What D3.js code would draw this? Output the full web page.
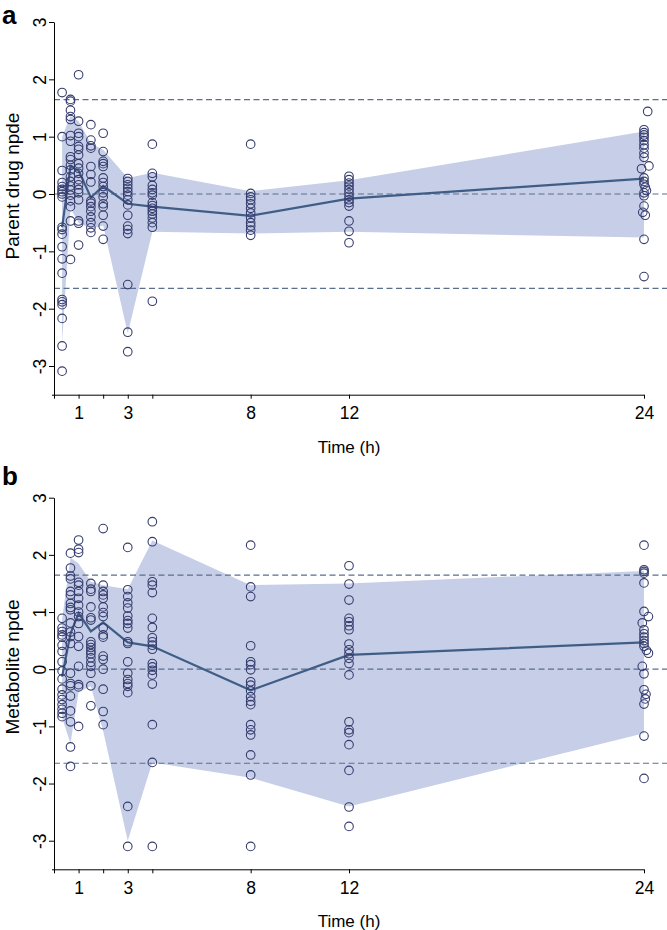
<!DOCTYPE html>
<html>
<head>
<meta charset="utf-8">
<script src="https://cdn.jsdelivr.net/npm/d3@7"></script>
<style>
  html, body { margin: 0; padding: 0; background: #fff; }
  svg { display: block; font-family: "Liberation Sans", Arial, sans-serif; }
</style>
</head>
<body>
<svg id="chart" width="667" height="930"></svg>
<script>
// ---------- DATA ----------
const times = [0.33, 0.67, 1, 1.5, 2, 3, 4, 8, 12, 24];
const xTickValues = [0, 1, 2, 3, 4, 8, 12, 24];
const xTickLabels = ["", "1", "", "3", "", "8", "12", "24"];
const yTickValues = [-3, -2, -1, 0, 1, 2, 3];
const refLines = [-1.645, 0, 1.645];

// Panel a: parent drug
const parentMedian = [-0.58, 0.48, 0.41, -0.06, 0.14, -0.17, -0.22, -0.38, -0.08, 0.27];
const parentUpper  = [1.00, 1.36, 1.27, 0.88, 0.77, 0.28, 0.37, 0.05, 0.24, 1.09];
const parentLower  = [-2.60, -0.25, -0.50, -0.60, -0.55, -2.43, -0.66, -0.69, -0.66, -0.76];
const parentObs = [
  [1.77, 1.00, 0.41, 0.20, 0.13, 0.08, 0.04, 0.00, -0.05, -0.58, -0.62, -0.70, -0.92, -1.13, -1.38, -1.84, -1.88, -1.93, -2.17, -2.65, -3.09],
  [1.65, 1.62, 1.46, 1.35, 1.30, 1.02, 0.92, 0.65, 0.60, 0.50, 0.42, 0.30, 0.22, 0.14, 0.07, -0.02, -0.12, -0.22, -0.47, -1.14],
  [2.08, 1.27, 1.06, 1.00, 0.83, 0.78, 0.68, 0.53, 0.45, 0.36, 0.25, 0.16, 0.08, 0.02, -0.10, -0.47, -0.51, -0.89],
  [1.21, 0.94, 0.84, 0.80, 0.48, 0.34, 0.21, -0.12, -0.16, -0.22, -0.30, -0.40, -0.50, -0.59, -0.67],
  [1.06, 0.74, 0.57, 0.53, 0.48, 0.28, 0.20, 0.13, 0.02, -0.05, -0.17, -0.22, -0.37, -0.56, -0.79],
  [0.27, 0.22, 0.16, 0.10, 0.04, -0.02, -0.10, -0.19, -0.37, -0.56, -0.62, -0.69, -1.58, -2.41, -2.75],
  [0.87, 0.36, 0.30, 0.15, 0.08, 0.02, -0.02, -0.15, -0.20, -0.25, -0.30, -0.35, -0.42, -0.50, -0.58, -1.87],
  [0.87, 0.01, -0.05, -0.10, -0.17, -0.25, -0.33, -0.42, -0.50, -0.56, -0.63, -0.72],
  [0.31, 0.25, 0.19, 0.14, 0.08, 0.02, -0.04, -0.10, -0.15, -0.21, -0.47, -0.65, -0.85],
  [1.44, 1.12, 1.07, 1.03, 0.99, 0.93, 0.86, 0.80, 0.71, 0.64, 0.49, 0.44, 0.28, 0.22, 0.17, 0.12, 0.06, 0.02, -0.03, -0.21, -0.32, -0.37, -0.79, -1.44]
];
// actual sampling times of the 24 h observations
const parentLateTimes = [24.15, 24, 24, 24, 24, 24, 24, 24, 24, 24, 24.2, 23.9, 24, 24, 24, 24.05, 24.1, 24, 24, 24, 23.95, 24.05, 24, 24];

// Panel b: metabolite
const metabMedian = [-0.13, 0.62, 0.98, 0.66, 0.82, 0.47, 0.40, -0.37, 0.25, 0.47];
const metabUpper  = [0.88, 1.95, 1.85, 1.53, 1.47, 1.40, 2.25, 1.47, 1.50, 1.72];
const metabLower  = [-0.85, -1.30, -0.40, -0.30, -1.08, -3.00, -1.63, -1.90, -2.40, -1.12];
const metabObs = [
  [0.89, 0.72, 0.66, 0.60, 0.56, 0.42, 0.31, 0.13, -0.03, -0.17, -0.35, -0.45, -0.53, -0.62, -0.70, -0.77, -0.83],
  [2.03, 1.77, 1.63, 1.58, 1.36, 1.30, 1.15, 1.08, 1.04, 0.81, 0.65, 0.57, 0.45, -0.07, -0.25, -0.29, -0.47, -0.73, -0.92, -1.36, -1.70],
  [2.26, 2.10, 2.04, 1.52, 1.47, 1.36, 1.24, 1.12, 1.00, 0.92, 0.80, 0.57, 0.40, 0.05, -0.27, -0.31, -1.00],
  [1.50, 1.40, 1.36, 1.09, 0.90, 0.86, 0.48, 0.43, 0.38, 0.32, 0.27, 0.20, 0.12, 0.05, -0.07, -0.29, -0.64],
  [2.46, 1.47, 1.36, 1.30, 1.24, 1.09, 0.99, 0.92, 0.72, 0.60, 0.56, 0.23, 0.17, 0.00, -0.35, -0.74, -0.97],
  [2.13, 1.39, 1.27, 1.16, 1.07, 0.93, 0.85, 0.80, 0.72, 0.48, 0.45, 0.13, -0.07, -0.18, -0.25, -0.30, -0.41, -2.40, -3.10],
  [2.58, 2.23, 1.53, 1.47, 1.34, 0.89, 0.73, 0.55, 0.48, 0.42, 0.35, 0.10, 0.04, -0.02, -0.10, -0.26, -0.97, -1.63, -3.10],
  [2.17, 1.44, 1.27, 0.41, 0.13, 0.08, -0.01, -0.22, -0.28, -0.38, -0.48, -0.56, -0.62, -0.97, -1.06, -1.15, -1.50, -1.85, -3.10],
  [1.81, 1.49, 1.21, 0.89, 0.83, 0.76, 0.69, 0.44, 0.34, 0.27, 0.19, 0.10, -0.10, -0.92, -1.06, -1.11, -1.32, -1.77, -2.41, -2.75],
  [2.17, 1.74, 1.71, 1.68, 1.51, 1.01, 0.92, 0.81, 0.69, 0.62, 0.56, 0.50, 0.45, 0.40, 0.33, 0.28, 0.05, -0.08, -0.36, -0.44, -0.52, -0.61, -1.17, -1.91]
];
const metabLateTimes = [24, 24, 24, 24, 24, 24, 24.18, 23.93, 24, 24, 24, 24, 24, 24, 24.1, 24.18, 23.93, 24, 24, 24.08, 24.05, 24, 24, 24];

// ---------- DRAWING ----------
const svg = d3.select("#chart");
const C = {
  band: "#c6cfe7",
  line: "#3f5d86",
  dash: "#5b6e8e",
  point: "#353c6e"
};

function drawPanel(p) {
  const x = d3.scaleLinear().domain([0, 24]).range([54, 644]);
  const y = d3.scaleLinear().domain([-3.5, 3]).range([p.bottom, p.top]);
  const g = svg.append("g");

  // band
  const area = d3.area()
    .x((d, i) => x(times[i]))
    .y0((d, i) => y(p.lower[i]))
    .y1((d, i) => y(p.upper[i]));
  g.append("path").datum(times).attr("d", area).attr("fill", C.band);

  // reference lines
  g.selectAll("line.ref").data(refLines).enter().append("line")
    .attr("x1", x(0)).attr("x2", 667)
    .attr("y1", d => y(d)).attr("y2", d => y(d))
    .attr("stroke", C.dash).attr("stroke-width", 1.2)
    .attr("stroke-dasharray", "6,3.5");

  // median line
  const line = d3.line().x((d, i) => x(times[i])).y(d => y(d));
  g.append("path").datum(p.median).attr("d", line)
    .attr("fill", "none").attr("stroke", C.line).attr("stroke-width", 2.2);

  // observations
  const pts = [];
  p.obs.forEach((vals, i) => {
    vals.forEach((v, j) => {
      const t = (i === times.length - 1) ? p.late[j] : times[i];
      pts.push({ t, v });
    });
  });
  g.selectAll("circle").data(pts).enter().append("circle")
    .attr("cx", d => x(d.t)).attr("cy", d => y(d.v)).attr("r", 4.3)
    .attr("fill", "none").attr("stroke", C.point).attr("stroke-width", 1.1);

  // y axis
  const ya = g.append("g").attr("transform", `translate(${x(0)},0)`)
    .call(d3.axisLeft(y).tickValues(yTickValues).tickSize(5).tickSizeOuter(0).tickFormat(d3.format("d")));
  ya.selectAll("path, line").attr("stroke", "#000").attr("stroke-width", 1);
  ya.selectAll("text")
    .attr("x", null).attr("dy", null)
    .attr("font-size", 17.5).attr("fill", "#000")
    .attr("text-anchor", "middle")
    .attr("transform", "translate(-14,0) rotate(-90)")
    .attr("dy", "0.36em")
    .text(d => d < 0 ? "-" + Math.abs(d) : d);

  // x axis
  const xa = g.append("g").attr("transform", `translate(0,${p.bottom})`)
    .call(d3.axisBottom(x).tickValues(xTickValues).tickSize(4).tickSizeOuter(0)
      .tickFormat((d, i) => xTickLabels[i]));
  xa.select(".domain").attr("d", `M${x(0) - 2},0.5H${x(24)}`);
  xa.selectAll("path, line").attr("stroke", "#000").attr("stroke-width", 1);
  xa.selectAll("text").attr("font-size", 17.5).attr("fill", "#000").attr("y", 12);

  // axis titles
  g.append("text").attr("x", 349).attr("y", p.bottom + 58)
    .attr("text-anchor", "middle").attr("font-size", 17).attr("fill", "#000")
    .text("Time (h)");
  g.append("text")
    .attr("transform", `translate(18.5,${p.titleY}) rotate(-90)`)
    .attr("text-anchor", "middle").attr("font-size", 19).attr("fill", "#000")
    .text(p.ytitle);

  // panel letter
  g.append("text").attr("x", 2).attr("y", p.letterY)
    .attr("font-size", 26).attr("font-weight", "bold").attr("fill", "#000")
    .text(p.letter);
}

drawPanel({
  top: 22, bottom: 394.7, median: parentMedian, upper: parentUpper, lower: parentLower,
  obs: parentObs, late: parentLateTimes, ytitle: "Parent drug npde", titleY: 186,
  letter: "a", letterY: 24
});
drawPanel({
  top: 497.7, bottom: 869.3, median: metabMedian, upper: metabUpper, lower: metabLower,
  obs: metabObs, late: metabLateTimes, ytitle: "Metabolite npde", titleY: 667,
  letter: "b", letterY: 485
});
</script>
</body>
</html>
